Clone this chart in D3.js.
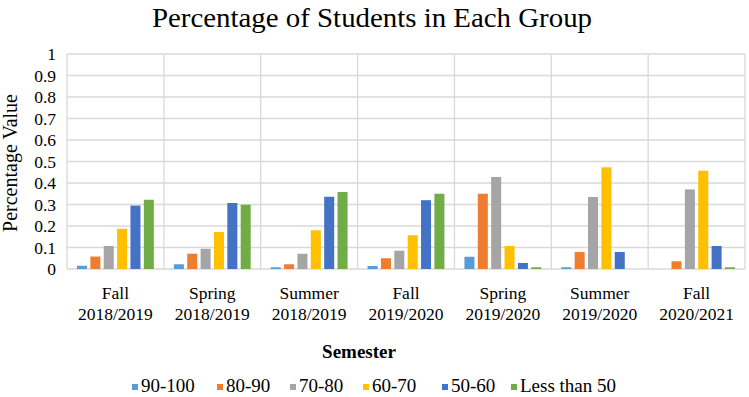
<!DOCTYPE html>
<html><head><meta charset="utf-8">
<script src="https://cdn.jsdelivr.net/npm/d3@7"></script>
<style>body{margin:0;background:#fff}svg{display:block}</style>
</head><body>
<script>
const semesters = [["Fall","2018/2019"],["Spring","2018/2019"],["Summer","2018/2019"],["Fall","2019/2020"],["Spring","2019/2020"],["Summer","2019/2020"],["Fall","2020/2021"]];
const groups = ["90-100","80-90","70-80","60-70","50-60","Less than 50"];
const colors = ["#5B9BD5","#ED7D31","#A5A5A5","#FFC000","#4472C4","#70AD47"];
const g90_100 = [0.015,0.022,0.008,0.014,0.057,0.008,0];
const g80_90  = [0.058,0.071,0.022,0.050,0.350,0.079,0.036];
const g70_80  = [0.107,0.094,0.071,0.085,0.428,0.335,0.370];
const g60_70  = [0.187,0.172,0.180,0.157,0.107,0.473,0.457];
const g50_60  = [0.295,0.307,0.336,0.320,0.028,0.079,0.107];
const gLess50 = [0.322,0.299,0.358,0.350,0.008,0,0.008];
const series = [g90_100,g80_90,g70_80,g60_70,g50_60,gLess50];
const yTicks = [0,0.1,0.2,0.3,0.4,0.5,0.6,0.7,0.8,0.9,1];

const W=749,H=397;
const FONT="Liberation Serif";
const m={l:67,r:745,t:54,b:269};
const svg=d3.select("body").append("svg").attr("width",W).attr("height",H);

const x0=d3.scaleBand().domain(d3.range(semesters.length)).range([m.l,m.r]);
const x1=d3.scaleBand().domain(d3.range(groups.length)).range([10,x0.bandwidth()-10]).paddingInner(0.25);
const y=d3.scaleLinear().domain([0,1]).range([m.b,m.t]);

// grid
svg.append("g").selectAll("line").data(yTicks).join("line")
  .attr("x1",m.l).attr("x2",m.r).attr("y1",d=>y(d)).attr("y2",d=>y(d))
  .attr("stroke","#d9d9d9").attr("stroke-width",1.3);
svg.append("g").selectAll("line").data(d3.range(semesters.length+1)).join("line")
  .attr("x1",d=>d<semesters.length?x0(d):m.r).attr("x2",d=>d<semesters.length?x0(d):m.r)
  .attr("y1",m.t).attr("y2",m.b).attr("stroke","#d9d9d9").attr("stroke-width",1.3);

// y axis labels
const ya=svg.append("g").attr("transform",`translate(${m.l-11},0)`)
  .call(d3.axisLeft(y).tickValues(yTicks).tickSize(0).tickPadding(0).tickFormat(d=>d3.format("")(+d.toFixed(1))));
ya.select(".domain").remove();
ya.attr("font-family",FONT).attr("font-size",17.5);
ya.selectAll("text").style("font-family",FONT).style("font-size","17.5px").attr("fill","#000");

// bars
semesters.forEach((s,i)=>{
  series.forEach((arr,j)=>{
    svg.append("rect").attr("x",x0(i)+x1(j)).attr("width",x1.bandwidth())
      .attr("y",y(arr[i])).attr("height",y(0)-y(arr[i])).attr("fill",colors[j]);
  });
});

// x labels
const xl=svg.append("g").selectAll("text").data(semesters).join("text")
  .attr("x",(d,i)=>x0(i)+x0.bandwidth()/2).attr("y",299)
  .attr("text-anchor","middle").style("font-family",FONT).style("font-size","17.5px");
xl.append("tspan").text(d=>d[0]);
xl.append("tspan").attr("x",(d,i)=>x0(i)+x0.bandwidth()/2).attr("dy",21).text(d=>d[1]);

// titles
svg.append("text").attr("x",372).attr("y",27).attr("text-anchor","middle")
  .style("font-family",FONT).style("font-size","27px").attr("textLength",440).attr("lengthAdjust","spacingAndGlyphs")
  .text("Percentage of Students in Each Group");
svg.append("text").attr("transform",`translate(17,${163}) rotate(-90)`).attr("text-anchor","middle")
  .style("font-family",FONT).style("font-size","20px").text("Percentage Value");
svg.append("text").attr("x",359).attr("y",358).attr("text-anchor","middle")
  .style("font-family",FONT).style("font-size","19px").style("font-weight","bold").text("Semester");

// legend
const lx=[132,217,290,363,442,511];
const lg=svg.append("g").selectAll("g").data(groups).join("g")
  .attr("transform",(d,i)=>`translate(${lx[i]},392)`);
lg.append("rect").attr("x",0).attr("y",-8).attr("width",6).attr("height",6).attr("fill",(d,i)=>colors[i]);
lg.append("text").attr("x",9).attr("y",0).style("font-family",FONT).style("font-size","19px").text(d=>d);
</script>
</body></html>
